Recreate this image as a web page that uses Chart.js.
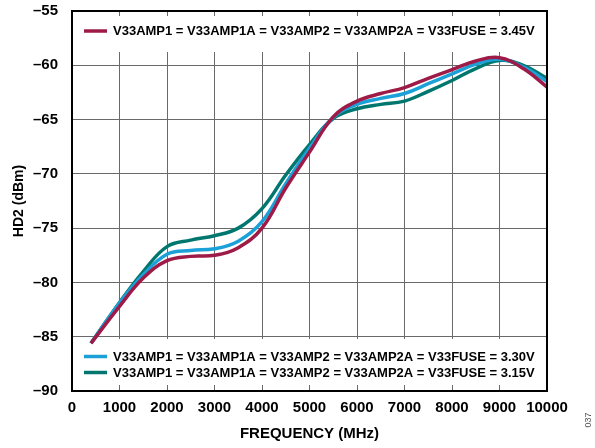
<!DOCTYPE html>
<html>
<head>
<meta charset="utf-8">
<script src="https://cdn.jsdelivr.net/npm/chart.js@4"></script>
<style>
  html, body { margin: 0; padding: 0; background: #fff; }
  #wrap { width: 595px; height: 448px; position: relative; }
</style>
</head>
<body>
<div id="wrap"><canvas id="hd2Chart" width="595" height="448"></canvas></div>
<script>
const freqMHz = [400, 1000, 1500, 2000, 2500, 3000, 3500, 4000, 4500, 5000, 5500, 6000, 6500, 7000, 7500, 8000, 8500, 9000, 9500, 10000];
const hd2At345 = [-85.6, -82.2, -79.6, -78.0, -77.6, -77.5, -76.8, -75.0, -71.3, -68.0, -64.75, -63.3, -62.6, -62.05, -61.2, -60.4, -59.6, -59.3, -60.3, -62.0];
const hd2At330 = [-85.6, -81.9, -79.3, -77.4, -77.05, -76.9, -76.2, -74.4, -70.9, -67.65, -64.8, -63.6, -63.05, -62.6, -61.7, -60.8, -59.9, -59.45, -60.15, -61.5];
const hd2At315 = [-85.6, -81.85, -79.0, -76.7, -76.1, -75.7, -75.0, -73.2, -70.1, -67.3, -64.9, -64.0, -63.6, -63.3, -62.4, -61.4, -60.3, -59.55, -60.0, -61.2];

const supplyLabels = [
  'V33AMP1 = V33AMP1A = V33AMP2 = V33AMP2A = V33FUSE = 3.45V',
  'V33AMP1 = V33AMP1A = V33AMP2 = V33AMP2A = V33FUSE = 3.30V',
  'V33AMP1 = V33AMP1A = V33AMP2 = V33AMP2A = V33FUSE = 3.15V'
];
const lineColors = ['#9e1b48', '#1ba1d8', '#00776e'];

const xTicks = [0, 1000, 2000, 3000, 4000, 5000, 6000, 7000, 8000, 9000, 10000];
const yTicks = [-90, -85, -80, -75, -70, -65, -60, -55];

const FONT = "'Liberation Sans', Arial, sans-serif";

function points(ys) {
  return freqMHz.map((f, i) => ({ x: f, y: ys[i] }));
}

// white panels behind the legends, then the frame and legend entries on top
const panelLegend = {
  id: 'panelLegend',
  beforeDatasetsDraw(chart) {
    const { ctx, chartArea: a } = chart;
    ctx.save();
    ctx.fillStyle = '#fff';
    ctx.fillRect(a.left + 1, a.top + 5, a.right - a.left - 2, 36);
    ctx.fillRect(a.left + 1, a.bottom - 52, a.right - a.left - 2, 46);
    ctx.restore();
  },
  afterDatasetsDraw(chart) {
    const { ctx, chartArea: a } = chart;
    const ds = chart.data.datasets;
    ctx.save();
    ctx.strokeStyle = '#000';
    ctx.lineWidth = 2;
    ctx.strokeRect(a.left, a.top, a.right - a.left, a.bottom - a.top);

    const rows = [
      { i: 0, y: a.top + 20 },
      { i: 1, y: a.bottom - 34.5 },
      { i: 2, y: a.bottom - 18.5 }
    ];
    ctx.font = 'bold 13px ' + FONT;
    ctx.textBaseline = 'middle';
    ctx.textAlign = 'left';
    rows.forEach(r => {
      ctx.strokeStyle = ds[r.i].borderColor;
      ctx.lineWidth = 3.5;
      ctx.beginPath();
      ctx.moveTo(a.left + 12, r.y);
      ctx.lineTo(a.left + 35, r.y);
      ctx.stroke();
      ctx.fillStyle = '#000';
      ctx.fillText(ds[r.i].label, a.left + 41, r.y + 0.5);
    });

    ctx.translate(589, 420);
    ctx.rotate(-Math.PI / 2);
    ctx.font = '9px ' + FONT;
    ctx.fillStyle = '#555';
    ctx.textAlign = 'center';
    ctx.fillText('037', 0, 0);
    ctx.restore();
  }
};

new Chart(document.getElementById('hd2Chart'), {
  type: 'line',
  data: {
    datasets: [
      { label: supplyLabels[0], data: points(hd2At345), borderColor: lineColors[0] },
      { label: supplyLabels[1], data: points(hd2At330), borderColor: lineColors[1] },
      { label: supplyLabels[2], data: points(hd2At315), borderColor: lineColors[2] }
    ]
  },
  options: {
    responsive: false,
    animation: false,
    layout: { padding: { left: 0, right: 48, top: 11, bottom: 0 } },
    elements: {
      line: { borderWidth: 3.5, tension: 0.4, fill: false },
      point: { radius: 0 }
    },
    plugins: { legend: { display: false }, tooltip: { enabled: false } },
    scales: {
      x: {
        type: 'linear',
        min: 0,
        max: 10000,
        afterFit(scale) { scale.height = 57; },
        afterBuildTicks(scale) { scale.ticks = xTicks.map(v => ({ value: v })); },
        grid: { color: '#6a6a6a', lineWidth: 1, drawTicks: false },
        border: { display: false },
        ticks: {
          padding: 8,
          maxRotation: 0,
          minRotation: 0,
          autoSkip: false,
          color: '#000',
          font: { family: FONT, size: 15, weight: 'bold' },
          callback: v => String(v)
        },
        title: {
          display: true,
          text: 'FREQUENCY (MHz)',
          color: '#000',
          font: { family: FONT, size: 15, weight: 'bold' },
          padding: { top: 0, bottom: 5 }
        }
      },
      y: {
        min: -90,
        max: -55,
        afterFit(scale) {
          scale.width = 72;
          scale.paddingTop = 0;
          scale.paddingBottom = 0;
        },
        afterBuildTicks(scale) { scale.ticks = yTicks.map(v => ({ value: v })); },
        grid: { color: '#6a6a6a', lineWidth: 1, drawTicks: false },
        border: { display: false },
        ticks: {
          padding: 14,
          color: '#000',
          font: { family: FONT, size: 15, weight: 'bold' },
          callback: v => (v < 0 ? '\u2013' + Math.abs(v) : String(v))
        },
        title: {
          display: true,
          text: 'HD2 (dBm)',
          color: '#000',
          font: { family: FONT, size: 14, weight: 'bold' },
          padding: { top: 11, bottom: 0 }
        }
      }
    }
  },
  plugins: [panelLegend]
});
</script>
</body>
</html>
